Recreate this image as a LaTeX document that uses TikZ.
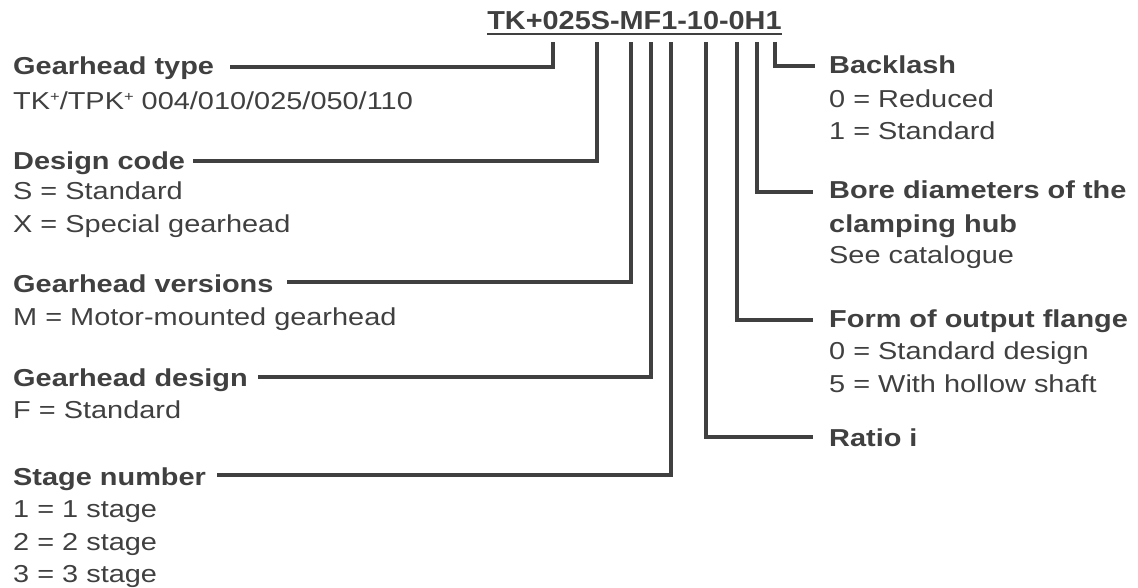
\documentclass[tikz,border=0pt]{standalone}
\usepackage{fontspec}
\setmainfont{Liberation Sans}[FakeStretch=1.18]
\newfontfamily\titlefont{Liberation Sans}[FakeStretch=1.11]
\definecolor{ink}{HTML}{404040}
\newcommand\fsz{\fontsize{24.5pt}{33pt}\selectfont}
\newcommand\supplus{\raisebox{8pt}{\fontsize{14pt}{14pt}\selectfont +}}
\begin{document}
\begin{tikzpicture}[x=1pt,y=-1pt,
  lbl/.style={anchor=base west,inner sep=0pt,text=ink,font=\fsz\bfseries},
  txt/.style={anchor=base west,inner sep=0pt,text=ink,font=\fsz},
  conn/.style={draw=ink,line width=3.1pt}]
\useasboundingbox (0,0) rectangle (1138,588);

% title
\node[anchor=base,inner sep=0pt,text=ink,font=\titlefont\fontsize{26pt}{30pt}\selectfont\bfseries] (title) at (634.5,30) {TK+025S-MF1-10-0H1};
\draw[ink,line width=2.2pt] ([yshift=-4pt]title.base west) -- ([yshift=-4pt]title.base east);

% top ends of the connectors
\coordinate (c1) at (553,42);
\coordinate (c2) at (597,42);
\coordinate (c3) at (631,42);
\coordinate (c4) at (651,42);
\coordinate (c5) at (671,42);
\coordinate (c6) at (706,42);
\coordinate (c7) at (737,42);
\coordinate (c8) at (757,42);
\coordinate (c9) at (775,42);

% left labels
\node[lbl] (gt) at (13,75) {Gearhead type};
\node[txt] (gt1) at (13,110) {TK\supplus/TPK\supplus\ 004/010/025/050/110};

\node[lbl] (dc) at (13,170) {Design code};
\node[txt] (dc1) at (13,200) {S = Standard};
\node[txt] (dc2) at (13,233) {X = Special gearhead};

\node[lbl] (gv) at (13,292) {Gearhead versions};
\node[txt] (gv1) at (13,325) {M = Motor-mounted gearhead};

\node[lbl] (gd) at (13,386) {Gearhead design};
\node[txt] (gd1) at (13,418) {F = Standard};

\node[lbl] (sn) at (13,485) {Stage number};
\node[txt] (sn1) at (13,517) {1 = 1 stage};
\node[txt] (sn2) at (13,550) {2 = 2 stage};
\node[txt] (sn3) at (13,582) {3 = 3 stage};

% right labels
\node[lbl] (bl) at (829,74) {Backlash};
\node[txt] (bl1) at (829,108) {0 = Reduced};
\node[txt] (bl2) at (829,140) {1 = Standard};

\node[lbl] (bd) at (829,199) {Bore diameters of the};
\node[lbl] (bdb) at (829,233) {clamping hub};
\node[txt] (bd1) at (829,264) {See catalogue};

\node[lbl] (of) at (829,327) {Form of output flange};
\node[txt] (of1) at (829,359) {0 = Standard design};
\node[txt] (of2) at (829,392) {5 = With hollow shaft};

\node[lbl] (ri) at (829,446) {Ratio i};

% connector ends at the labels
\coordinate (a1) at (230,67);
\coordinate (a2) at (193,161);
\coordinate (a3) at (287,282);
\coordinate (a4) at (258,377);
\coordinate (a5) at (217,475);
\coordinate (b6) at (813,437);
\coordinate (b7) at (813,320);
\coordinate (b8) at (813,192);
\coordinate (b9) at (815,66);

% connectors
\draw[conn] (a1) -| (c1);
\draw[conn] (a2) -| (c2);
\draw[conn] (a3) -| (c3);
\draw[conn] (a4) -| (c4);
\draw[conn] (a5) -| (c5);
\draw[conn] (c6) |- (b6);
\draw[conn] (c7) |- (b7);
\draw[conn] (c8) |- (b8);
\draw[conn] (c9) |- (b9);
\end{tikzpicture}
\end{document}
